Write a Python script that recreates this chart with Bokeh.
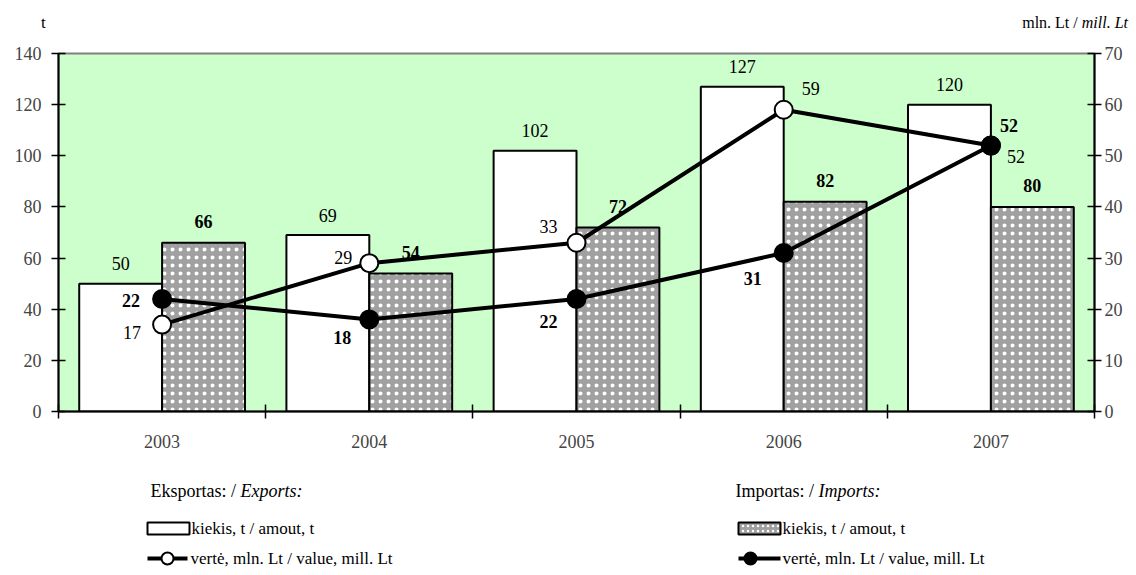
from bokeh.plotting import figure
from bokeh.models import Range1d, LinearAxis, FixedTicker, Div
from bokeh.layouts import column
from bokeh.core.properties import value
from bokeh.embed import file_html
from bokeh.resources import INLINE

# ---------------- data ----------------
years = ["2003", "2004", "2005", "2006", "2007"]
export_amount_t = [50, 69, 102, 127, 120]
import_amount_t = [66, 54, 72, 82, 80]
export_value_mlt = [17, 29, 33, 59, 52]
import_value_mlt = [22, 18, 22, 31, 52]
left_ticks = [0, 20, 40, 60, 80, 100, 120, 140]
right_ticks = [0, 10, 20, 30, 40, 50, 60, 70]

# label offsets (style only)
exp_val_dx = [-30, -26, -28, 27, 25]
exp_val_dy = [8, -6, -16, -21, 11]
imp_val_dx = [-31, -27, -28, -31, 18]
imp_val_dy = [2, 18, 23, 26, -20]

FONT = value("Liberation Serif")
FS = "18px"
BAR_W = 0.4
IMP_FILL = "#a0a0a0"

x = list(range(len(years)))
x_exp = [i - BAR_W / 2 for i in x]
x_imp = [i + BAR_W / 2 for i in x]

W = 1136
H0 = 45      # header
H1 = 423     # main chart
H2 = 105     # legend
BL, BR = 58, 42

# ---------------- header ----------------
header = Div(width=W, height=H0, margin=(0, 0, 0, 0), text=(
    '<div style="position:relative;width:%dpx;height:%dpx;font-family:\'Liberation Serif\';color:black;">'
    '<span style="position:absolute;left:41px;top:11px;font-size:17px;">t</span>'
    '<span style="position:absolute;right:8px;top:12px;font-size:16px;">mln. Lt / <i>mill. Lt</i></span>'
    '</div>') % (W, H0))

# ---------------- main chart ----------------
p = figure(width=W, height=H1, output_backend="svg", toolbar_location=None,
           x_range=Range1d(-0.5, len(years) - 0.5), y_range=Range1d(0, 140),
           min_border_left=BL, min_border_right=BR, min_border_top=8, min_border_bottom=57,
           margin=(0, 0, 0, 0))
p.extra_y_ranges = {"val": Range1d(0, 70)}
p.background_fill_color = "#ccffcc"
p.border_fill_color = "white"
p.outline_line_color = "#808080"
p.outline_line_width = 2
p.xgrid.visible = False
p.ygrid.visible = False

# bars
p.vbar(x=x_exp, top=export_amount_t, width=BAR_W, bottom=0,
       fill_color="white", line_color="black", line_width=2)
p.vbar(x=x_imp, top=import_amount_t, width=BAR_W, bottom=0,
       fill_color=IMP_FILL, line_color="black", line_width=2,
       hatch_pattern="dot", hatch_color="white", hatch_scale=8, hatch_weight=1.2)

# lines
p.line(x=x, y=export_value_mlt, y_range_name="val", line_color="black", line_width=4)
p.line(x=x, y=import_value_mlt, y_range_name="val", line_color="black", line_width=4)
p.scatter(x=x, y=export_value_mlt, y_range_name="val", marker="circle", size=18,
          fill_color="white", line_color="black", line_width=2)
p.scatter(x=x, y=import_value_mlt, y_range_name="val", marker="circle", size=18,
          fill_color="black", line_color="black", line_width=2)

# data labels
p.text(x=x_exp, y=export_amount_t, text=[str(v) for v in export_amount_t],
       y_offset=-20, text_align="center", text_baseline="middle",
       text_font=FONT, text_font_size=FS, text_color="black")
p.text(x=x_imp, y=import_amount_t, text=[str(v) for v in import_amount_t],
       y_offset=-21, text_align="center", text_baseline="middle",
       text_font=FONT, text_font_size=FS, text_font_style="bold", text_color="black")
p.text(x=x, y=export_value_mlt, y_range_name="val", text=[str(v) for v in export_value_mlt],
       x_offset=exp_val_dx, y_offset=exp_val_dy, text_align="center", text_baseline="middle",
       text_font=FONT, text_font_size=FS, text_color="black")
p.text(x=x, y=import_value_mlt, y_range_name="val", text=[str(v) for v in import_value_mlt],
       x_offset=imp_val_dx, y_offset=imp_val_dy, text_align="center", text_baseline="middle",
       text_font=FONT, text_font_size=FS, text_font_style="bold", text_color="black")

# axes
xa = p.xaxis[0]
xa.ticker = FixedTicker(ticks=x, minor_ticks=[i - 0.5 for i in range(len(years) + 1)])
xa.major_label_overrides = {i: y for i, y in zip(x, years)}
xa.major_tick_line_color = None
xa.major_tick_in = 0
xa.major_tick_out = 0
xa.minor_tick_line_color = "black"
xa.minor_tick_line_width = 1.5
xa.minor_tick_in = 7
xa.minor_tick_out = 7
xa.axis_line_width = 2
xa.major_label_standoff = 16
xa.major_label_text_font = "Liberation Serif"
xa.major_label_text_font_size = FS

ya = p.yaxis[0]
ya.ticker = FixedTicker(ticks=left_ticks)
ya.minor_tick_line_color = None
ya.major_tick_in = 7
ya.major_tick_out = 7
ya.axis_line_width = 2
ya.major_tick_line_width = 1.5
ya.major_label_standoff = 10
ya.major_label_text_font = "Liberation Serif"
ya.major_label_text_font_size = FS

ry = LinearAxis(y_range_name="val", ticker=FixedTicker(ticks=right_ticks))
ry.minor_tick_line_color = None
ry.major_tick_in = 7
ry.major_tick_out = 7
ry.axis_line_width = 2
ry.major_tick_line_width = 1.5
ry.major_label_standoff = 3
ry.major_label_text_font = "Liberation Serif"
ry.major_label_text_font_size = FS
p.add_layout(ry, "right")

# ---------------- legend (page-pixel coordinates inside the aligned frame) ----------------
q = figure(width=W, height=H2, output_backend="svg", toolbar_location=None,
           x_range=Range1d(BL, W - BR), y_range=Range1d(H2, 0),
           min_border_left=BL, min_border_right=BR, min_border_top=0, min_border_bottom=0,
           margin=(0, 0, 0, 0))
q.axis.visible = False
q.xgrid.visible = False
q.ygrid.visible = False
q.outline_line_color = None
q.background_fill_color = "white"

LF = "17px"
HF = "18px"
q.text(x=[150], y=[22], text=["Eksportas: /"], text_baseline="middle",
       text_font=FONT, text_font_size=HF)
q.text(x=[240], y=[22], text=["Exports:"], text_baseline="middle",
       text_font=FONT, text_font_size=HF, text_font_style="italic")
q.text(x=[735], y=[22], text=["Importas: /"], text_baseline="middle",
       text_font=FONT, text_font_size=HF)
q.text(x=[818], y=[22], text=["Imports:"], text_baseline="middle",
       text_font=FONT, text_font_size=HF, text_font_style="italic")

# export legend
q.quad(left=[147], right=[189], top=[54], bottom=[66], fill_color="white",
       line_color="black", line_width=2)
q.line(x=[147, 187], y=[90, 90], line_color="black", line_width=4)
q.scatter(x=[167], y=[90], marker="circle", size=12, fill_color="white",
          line_color="black", line_width=2)
q.text(x=[191, 190], y=[60, 90], text=["kiekis, t / amout, t", "vertė, mln. Lt / value, mill. Lt"],
       text_baseline="middle", text_font=FONT, text_font_size=LF)

# import legend
q.quad(left=[738], right=[780], top=[54], bottom=[66], fill_color=IMP_FILL,
       line_color="black", line_width=2, hatch_pattern="dot", hatch_color="white",
       hatch_scale=5, hatch_weight=1)
q.line(x=[738, 780], y=[90, 90], line_color="black", line_width=4)
q.scatter(x=[750], y=[90], marker="circle", size=12, fill_color="black",
          line_color="black", line_width=2)
q.text(x=[782, 782], y=[60, 90], text=["kiekis, t / amout, t", "vertė, mln. Lt / value, mill. Lt"],
       text_baseline="middle", text_font=FONT, text_font_size=LF)

layout = column(header, p, q, spacing=0, margin=(0, 0, 0, 0))
open("out.html", "w").write(file_html(layout, INLINE))
